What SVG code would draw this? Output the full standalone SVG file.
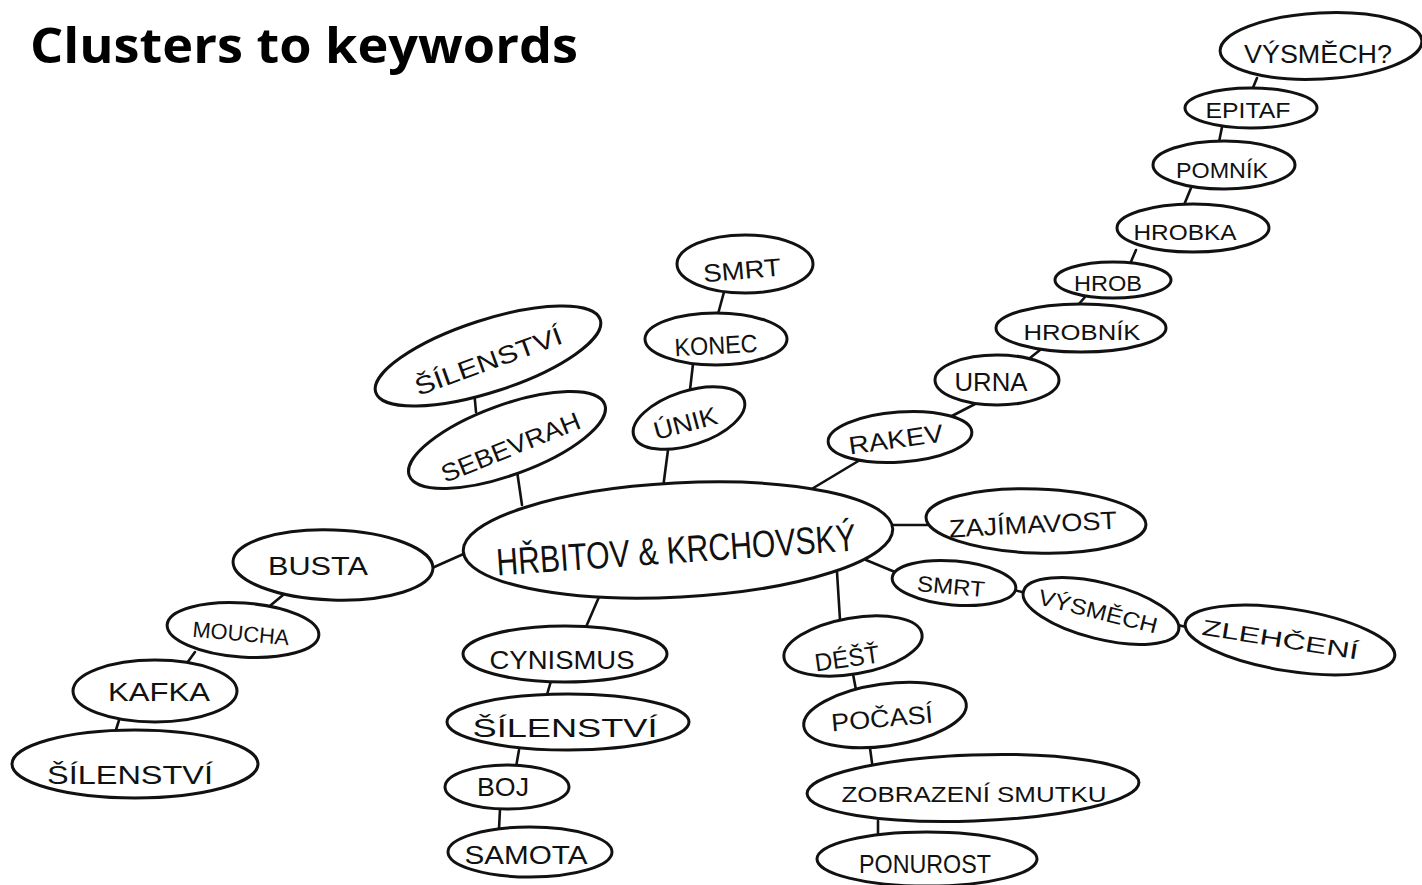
<svg xmlns="http://www.w3.org/2000/svg" width="1422" height="885" viewBox="0 0 1422 885">
<style>
.n{fill:#fff;stroke:#111;stroke-width:3}
.c{stroke:#111;stroke-width:2.6;fill:none;stroke-linecap:round}
.t{font-family:"Liberation Sans","DejaVu Sans",sans-serif;font-size:25px;fill:#111;text-anchor:middle}
.big{font-size:38px}
.sm{font-size:22px}
.title{font-family:"Open Sans","Liberation Sans",sans-serif;font-weight:bold;font-size:48px;fill:#000}
</style>
<rect width="1422" height="885" fill="#fff"/>
<text class="title" x="30" y="63" textLength="548" lengthAdjust="spacingAndGlyphs">Clusters to keywords</text>
<g id="connectors">
<line class="c" x1="1257" y1="78" x2="1252" y2="90"/>
<line class="c" x1="1222" y1="127" x2="1219" y2="142"/>
<line class="c" x1="1191" y1="188" x2="1184" y2="205"/>
<line class="c" x1="1136" y1="250" x2="1130" y2="264"/>
<line class="c" x1="1085" y1="297" x2="1078" y2="305"/>
<line class="c" x1="1040" y1="350" x2="1030" y2="358"/>
<line class="c" x1="977" y1="403" x2="948" y2="418"/>
<line class="c" x1="860" y1="460" x2="810" y2="490"/>
<line class="c" x1="724" y1="292" x2="718" y2="314"/>
<line class="c" x1="693" y1="364" x2="690" y2="390"/>
<line class="c" x1="668" y1="450" x2="663" y2="488"/>
<line class="c" x1="474" y1="390" x2="476" y2="412"/>
<line class="c" x1="517" y1="471" x2="522" y2="505"/>
<line class="c" x1="885" y1="525" x2="928" y2="525"/>
<line class="c" x1="866" y1="560" x2="895" y2="572"/>
<line class="c" x1="1014" y1="590" x2="1026" y2="593"/>
<line class="c" x1="1178" y1="625" x2="1190" y2="628"/>
<line class="c" x1="432" y1="568" x2="468" y2="552"/>
<line class="c" x1="283" y1="595" x2="265" y2="610"/>
<line class="c" x1="195" y1="652" x2="187" y2="663"/>
<line class="c" x1="120" y1="717" x2="115" y2="733"/>
<line class="c" x1="602" y1="590" x2="586" y2="627"/>
<line class="c" x1="551" y1="681" x2="546" y2="698"/>
<line class="c" x1="519" y1="750" x2="516" y2="767"/>
<line class="c" x1="500" y1="809" x2="499" y2="829"/>
<line class="c" x1="837" y1="572" x2="840" y2="620"/>
<line class="c" x1="853" y1="674" x2="856" y2="690"/>
<line class="c" x1="870" y1="748" x2="873" y2="770"/>
<line class="c" x1="878" y1="821" x2="878" y2="835"/>
</g>
<g id="center"><ellipse class="n" cx="678" cy="540" rx="215" ry="57" transform="rotate(-3 678 540)"/><text class="t big" x="676" y="563" textLength="360" lengthAdjust="spacingAndGlyphs" transform="rotate(-4 676 550)">HŘBITOV &amp; KRCHOVSKÝ</text></g>
<g id="vysmech-q"><ellipse class="n" cx="1321" cy="46" rx="101" ry="33" transform="rotate(-3 1321 46)"/><text class="t" x="1318" y="63" textLength="148" lengthAdjust="spacingAndGlyphs">VÝSMĚCH?</text></g>
<g id="epitaf"><ellipse class="n" cx="1251" cy="108" rx="66" ry="20"/><text class="t sm" x="1248" y="118" textLength="85" lengthAdjust="spacingAndGlyphs">EPITAF</text></g>
<g id="pomnik"><ellipse class="n" cx="1224" cy="165" rx="71" ry="24"/><text class="t sm" x="1222" y="178" textLength="92" lengthAdjust="spacingAndGlyphs">POMNÍK</text></g>
<g id="hrobka"><ellipse class="n" cx="1193" cy="228" rx="76" ry="24"/><text class="t sm" x="1185" y="240" textLength="103" lengthAdjust="spacingAndGlyphs">HROBKA</text></g>
<g id="hrob"><ellipse class="n" cx="1113" cy="280" rx="58" ry="18"/><text class="t sm" x="1108" y="291" textLength="68" lengthAdjust="spacingAndGlyphs">HROB</text></g>
<g id="hrobnik"><ellipse class="n" cx="1081" cy="328" rx="85" ry="24"/><text class="t sm" x="1082" y="340" textLength="117" lengthAdjust="spacingAndGlyphs">HROBNÍK</text></g>
<g id="urna"><ellipse class="n" cx="997" cy="380" rx="62" ry="25"/><text class="t" x="991" y="391" textLength="73" lengthAdjust="spacingAndGlyphs">URNA</text></g>
<g id="rakev"><ellipse class="n" cx="900" cy="437" rx="72" ry="25" transform="rotate(-4 900 437)"/><text class="t" x="896" y="448" textLength="95" lengthAdjust="spacingAndGlyphs" transform="rotate(-8 896 440)">RAKEV</text></g>
<g id="smrt-top"><ellipse class="n" cx="745" cy="264" rx="68" ry="29"/><text class="t" x="742" y="279" textLength="78" lengthAdjust="spacingAndGlyphs" transform="rotate(-5 742 270)">SMRT</text></g>
<g id="konec"><ellipse class="n" cx="716" cy="339" rx="71" ry="26"/><text class="t" x="716" y="354" textLength="83" lengthAdjust="spacingAndGlyphs" transform="rotate(-3 716 345)">KONEC</text></g>
<g id="unik"><ellipse class="n" cx="689" cy="418" rx="58" ry="27" transform="rotate(-18 689 418)"/><text class="t" x="685" y="432" textLength="65" lengthAdjust="spacingAndGlyphs" transform="rotate(-15 685 422)">ÚNIK</text></g>
<g id="silenstvi-1"><ellipse class="n" cx="488" cy="356" rx="118" ry="36" transform="rotate(-18 488 356)"/><text class="t" x="488" y="370" textLength="155" lengthAdjust="spacingAndGlyphs" transform="rotate(-20 488 360)">ŠÍLENSTVÍ</text></g>
<g id="sebevrah"><ellipse class="n" cx="507" cy="440" rx="104" ry="35" transform="rotate(-20 507 440)"/><text class="t" x="510" y="456" textLength="148" lengthAdjust="spacingAndGlyphs" transform="rotate(-22 510 446)">SEBEVRAH</text></g>
<g id="zajimavost"><ellipse class="n" cx="1036" cy="521" rx="110" ry="32" transform="rotate(2 1036 521)"/><text class="t" x="1033" y="533" textLength="168" lengthAdjust="spacingAndGlyphs" transform="rotate(-3 1033 525)">ZAJÍMAVOST</text></g>
<g id="smrt-right"><ellipse class="n" cx="954" cy="583" rx="62" ry="22" transform="rotate(5 954 583)"/><text class="t sm" x="951" y="594" textLength="68" lengthAdjust="spacingAndGlyphs" transform="rotate(5 951 586)">SMRT</text></g>
<g id="vysmech"><ellipse class="n" cx="1101" cy="611" rx="80" ry="28" transform="rotate(14 1101 611)"/><text class="t sm" x="1098" y="619" textLength="122" lengthAdjust="spacingAndGlyphs" transform="rotate(14 1098 611)">VÝSMĚCH</text></g>
<g id="zlehceni"><ellipse class="n" cx="1290" cy="640" rx="106" ry="31" transform="rotate(9 1290 640)"/><text class="t sm" x="1280" y="647" textLength="158" lengthAdjust="spacingAndGlyphs" transform="rotate(9 1280 640)">ZLEHČENÍ</text></g>
<g id="busta"><ellipse class="n" cx="333" cy="565" rx="100" ry="35" transform="rotate(2 333 565)"/><text class="t" x="318" y="575" textLength="100" lengthAdjust="spacingAndGlyphs">BUSTA</text></g>
<g id="moucha"><ellipse class="n" cx="243" cy="630" rx="76" ry="27" transform="rotate(4 243 630)"/><text class="t sm" x="241" y="641" textLength="97" lengthAdjust="spacingAndGlyphs" transform="rotate(5 241 633)">MOUCHA</text></g>
<g id="kafka"><ellipse class="n" cx="155" cy="691" rx="82" ry="31"/><text class="t" x="159" y="701" textLength="102" lengthAdjust="spacingAndGlyphs">KAFKA</text></g>
<g id="silenstvi-2"><ellipse class="n" cx="135" cy="764" rx="123" ry="34"/><text class="t" x="130" y="784" textLength="166" lengthAdjust="spacingAndGlyphs">ŠÍLENSTVÍ</text></g>
<g id="cynismus"><ellipse class="n" cx="565" cy="654" rx="102" ry="28"/><text class="t" x="562" y="669" textLength="145" lengthAdjust="spacingAndGlyphs">CYNISMUS</text></g>
<g id="silenstvi-3"><ellipse class="n" cx="568" cy="722" rx="121" ry="28"/><text class="t" x="565" y="737" textLength="185" lengthAdjust="spacingAndGlyphs">ŠÍLENSTVÍ</text></g>
<g id="boj"><ellipse class="n" cx="507" cy="787" rx="62" ry="22"/><text class="t" x="503" y="796" textLength="52" lengthAdjust="spacingAndGlyphs">BOJ</text></g>
<g id="samota"><ellipse class="n" cx="530" cy="852" rx="82" ry="25"/><text class="t" x="526" y="864" textLength="123" lengthAdjust="spacingAndGlyphs">SAMOTA</text></g>
<g id="dest"><ellipse class="n" cx="853" cy="646" rx="70" ry="28" transform="rotate(-10 853 646)"/><text class="t" x="847" y="667" textLength="65" lengthAdjust="spacingAndGlyphs" transform="rotate(-8 847 658)">DÉŠŤ</text></g>
<g id="pocasi"><ellipse class="n" cx="885" cy="715" rx="82" ry="31" transform="rotate(-8 885 715)"/><text class="t" x="882" y="727" textLength="102" lengthAdjust="spacingAndGlyphs" transform="rotate(-5 882 718)">POČASÍ</text></g>
<g id="zobrazeni"><ellipse class="n" cx="973" cy="788" rx="166" ry="33" transform="rotate(-2 973 788)"/><text class="t sm" x="974" y="802" textLength="265" lengthAdjust="spacingAndGlyphs">ZOBRAZENÍ SMUTKU</text></g>
<g id="ponurost"><ellipse class="n" cx="927" cy="859" rx="110" ry="27"/><text class="t" x="925" y="873" textLength="132" lengthAdjust="spacingAndGlyphs">PONUROST</text></g>
</svg>
